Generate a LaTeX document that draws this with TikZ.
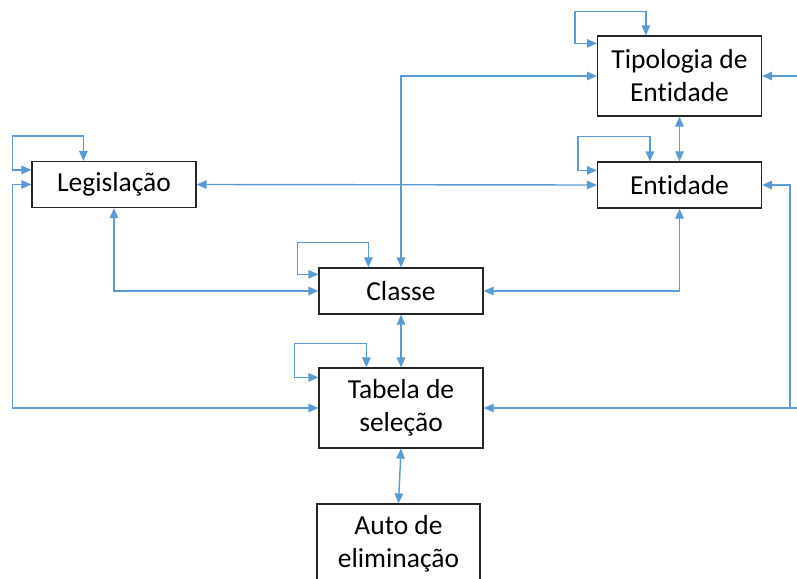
\documentclass[tikz,border=0pt]{standalone}
\usepackage{fontspec}
\setmainfont{Carlito}[Ligatures={NoCommon}]
\usetikzlibrary{arrows.meta}
\definecolor{azul}{HTML}{5B9BD5}
\tikzset{
  caixa/.style={draw=black!85, line width=1.2pt, fill=white, minimum width=164pt,
    inner sep=0pt, align=center, font=\fontsize{27.5}{33}\selectfont},
  ligacao/.style={draw=azul, line width=1.4pt, -{Triangle[length=10pt,width=8.5pt]}},
  ligacao2/.style={ligacao, {Triangle[length=10pt,width=8.5pt]}-{Triangle[length=10pt,width=8.5pt]}},
}
\begin{document}
\begin{tikzpicture}[x=1pt,y=-1pt]
			\clip (0,0) rectangle (797,578);
			% Caixas
			\node[caixa, minimum height=80pt] (tipo) at (679.5,76) {Tipologia de\\Entidade};
			\node[caixa, minimum height=46pt] (ent) at (679.5,185) {Entidade};
			\node[caixa, minimum height=46pt] (leg) at (114,184.5) {Legislação};
			\node[caixa, minimum height=46pt] (cls) at (401,291) {Classe};
			\node[caixa, minimum height=80pt] (tab) at (401,408) {Tabela de\\seleção};
			\node[caixa, minimum height=80pt, minimum width=163pt] (auto) at (398.5,544) {Auto de\\eliminação};

			% Pontas soltas
			\coordinate (tr) at (800,76);
			\coordinate (br) at (800,408);
			\coordinate (bc) at (790,408);

			% Auto-relacoes
			\draw[ligacao2] ([yshift=-8pt]tipo.north west) -- ++(-22,0) -- ++(0,-32) -| ([xshift=49pt]tipo.north west);
			\draw[ligacao2] ([yshift=-9pt]ent.north west) -- ++(-19,0) -- ++(0,-34) -| ([xshift=53pt]ent.north west);
			\draw[ligacao2] ([yshift=-9pt]leg.north west) -- ++(-19,0) -- ++(0,-34) -| ([xshift=52pt]leg.north west);
			\draw[ligacao2] ([yshift=-7pt]cls.north west) -- ++(-21,0) -- ++(0,-32) -| ([xshift=50pt]cls.north west);
			\draw[ligacao2] ([yshift=-10pt]tab.north west) -- ++(-24,0) -- ++(0,-34) -| ([xshift=48pt]tab.north west);

			% Ligacoes
			\draw[ligacao2] (cls.north) |- (tipo.west);
			\draw[ligacao] (tr) -- (tipo.east);
			\draw[ligacao2] (tipo.south) -- (ent.north);
			\draw[ligacao2] (leg.east) -- (ent.west);
			\draw[ligacao2] (leg.west) -- ++(-19,0) |- (tab.west);
			\draw[ligacao2] (leg.south) |- (cls.west);
			\draw[ligacao2] (ent.south) |- (cls.east);
			\draw[ligacao] (br) -- (tab.east);
			\draw[ligacao] (bc) |- (ent.east);
			\draw[ligacao2] (cls.south) -- (tab.north);
			\draw[ligacao2] (tab.south) -- (auto.north);
\end{tikzpicture}
\end{document}
